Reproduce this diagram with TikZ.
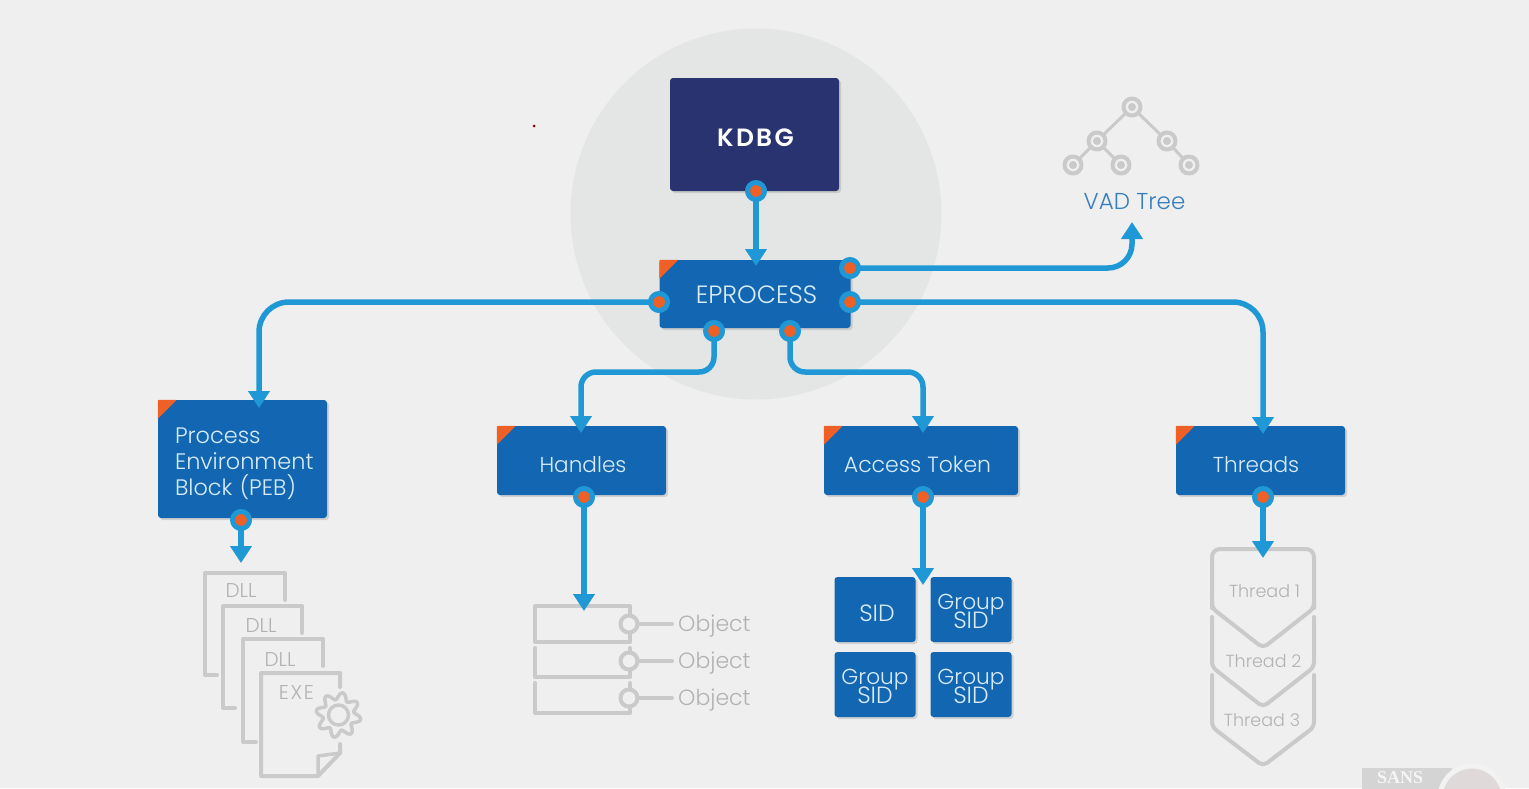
\documentclass[tikz,border=0pt]{standalone}
\usepackage{fontspec}
\setmainfont{Poppins Light}[BoldFont=Poppins SemiBold]
\newfontfamily\logofont{Liberation Serif}
\usetikzlibrary{arrows.meta,shadows}
\definecolor{bgcol}{HTML}{EFEFEF}
\definecolor{halocol}{HTML}{E4E6E6}
\definecolor{navycol}{HTML}{28336F}
\definecolor{boxcol}{HTML}{1367B2}
\definecolor{flowcol}{HTML}{2098D6}
\definecolor{dotcol}{HTML}{EE6025}
\definecolor{txtcol}{HTML}{D9ECF7}
\definecolor{iconcol}{HTML}{CACACA}
\definecolor{graytxt}{HTML}{B2B2B2}
\newcommand{\sidword}{{\fontsize{23.5}{19}\selectfont SID}}
\newcommand{\tightlines}{\lineskiplimit=-20pt\relax}
\tikzset{
  blockbox/.style={fill=boxcol, rounded corners=3pt, text=txtcol, inner sep=0pt, align=center, text height=24pt,
    font=\fontsize{22}{26}\selectfont,
    drop shadow={shadow xshift=2pt, shadow yshift=-2pt, fill=black, opacity=.12}},
  port/.style={circle, fill=dotcol, draw=flowcol, line width=5pt, minimum size=17pt, inner sep=0pt, outer sep=0pt},
  flow/.style={draw=flowcol, line width=5.5pt, ->},
  icon/.style={draw=iconcol, line width=4pt},
  vadnode/.style={circle, draw=iconcol, fill=bgcol, line width=4pt, minimum size=17pt, inner sep=0pt, outer sep=0pt},
  objring/.style={circle, draw=iconcol, fill=bgcol, line width=4pt, minimum size=17pt, inner sep=0pt, outer sep=0pt},
  objtxt/.style={anchor=west, text=graytxt, inner sep=6pt, text height=20pt, font=\fontsize{22}{24}\selectfont},
  filetxt/.style={text=graytxt, inner sep=0pt, font=\fontsize{20}{22}\selectfont},
  threadtxt/.style={text=graytxt, inner sep=0pt, font=\fontsize{17.5}{20}\selectfont},
  sidbox/.style={blockbox, minimum width=81pt, minimum height=65pt, font=\fontsize{21.7}{19}\selectfont\tightlines},
  groupbox/.style={sidbox, text height=39pt}
}
\begin{document}
\begin{tikzpicture}[x=1pt, y=-1pt, line join=round, line cap=round,
    >={Triangle[width=21pt,length=17pt]}, font=\fontsize{22}{26}\selectfont]
	\useasboundingbox (0,0) rectangle (1529,788);
	\fill[bgcol] (0,0) rectangle (1529,788);
	\begin{scope}
		\clip (0,0) rectangle (1529,788);
		% logo in the corner
		\fill[black!17] (1362,768) rectangle (1452,800);
		\node[text=white!96!black, inner sep=0pt, font=\logofont\bfseries\fontsize{18}{18}\selectfont] (sans) at (1400,778) {SANS};
		\filldraw[draw=white!95!black, line width=5pt, fill=red!20!black!15!white] (1472,798) circle (32);
	\end{scope}
	\fill[red!50!black] (534,126) circle (1.5);
	\fill[halocol] (756,214) circle (185.5);
	% boxes
	\node[blockbox, fill=navycol, text=white, minimum width=169pt, minimum height=113pt, text height=24pt,
		font=\bfseries\fontsize{25}{26}\selectfont\addfontfeature{LetterSpace=9}] (kdbg) at (754.5,134.5) {\hspace*{2pt}KDBG};
	\node[blockbox, minimum width=191pt, minimum height=68pt, text height=20pt,
		font=\fontsize{25}{26}\selectfont] (eprocess) at (755,294) {\hspace*{3pt}EPROCESS};
	\node[blockbox, minimum width=169pt, minimum height=118pt, align=left, text width=135pt, text height=26pt,
		font=\fontsize{22.4}{26}\selectfont] (peb) at (242.5,459)
		{Process\\Environment\\Block (PEB)};
	\node[blockbox, font=\fontsize{21.6}{26}\selectfont, minimum width=169pt, minimum height=69pt] (handles) at (581.5,460.5) {\hspace*{3pt}Handles};
	\node[blockbox, minimum width=194pt, minimum height=69pt] (token) at (921,460.5) {Access Token\hspace*{7pt}};
	\node[blockbox, font=\fontsize{21.6}{26}\selectfont, minimum width=169pt, minimum height=69pt] (threads) at (1260.5,460.5) {Threads\hspace*{9pt}};
	\foreach \n in {eprocess,peb,handles,token,threads}
		\fill[dotcol, rounded corners=1pt] (\n.north west) ++(0,19) -- ++(0,-19) -- ++(19,0) -- cycle;
	\node[sidbox] (sidA) at (875,609.5) {\hspace*{4pt}\sidword};
	\node[groupbox] (sidB) at (971,609.5) {Group\\\sidword};
	\node[groupbox] (sidC) at (875,684.5) {Group\\\sidword};
	\node[groupbox] (sidD) at (971,684.5) {Group\\\sidword};
	% ports
	\node[port] (pK) at (756,191) {};
	\node[port] (pVad) at (850,268) {};
	\node[port] (pThr) at (850,302) {};
	\node[port] (pPeb) at (659,302) {};
	\node[port] (pHan) at (714,331) {};
	\node[port] (pTok) at (790,331) {};
	\node[port] (pDll) at (241,520) {};
	\node[port] (pObj) at (584,497) {};
	\node[port] (pSid) at (923,497) {};
	\node[port] (pList) at (1263,497) {};
	% free ends of the arrows
	\path (756,266) coordinate (inE)
		(1132,222) coordinate (inVad)
		(1263,434) coordinate (inThr)
		(259,408) coordinate (inPeb)
		(581,433) coordinate (inHan)
		(923,433) coordinate (inTok)
		(241,563) coordinate (inDll)
		(584,611) coordinate (inObj)
		(923,585) coordinate (inSid)
		(1263,558) coordinate (inList);
	% VAD tree
	\node[vadnode] (vA) at (1132,107) {};
	\node[vadnode] (vB) at (1097,141) {};
	\node[vadnode] (vC) at (1167,141) {};
	\node[vadnode] (vD) at (1073,165) {};
	\node[vadnode] (vE) at (1121,165) {};
	\node[vadnode] (vF) at (1189,165) {};
	\foreach \a/\b in {vA/vB,vA/vC,vB/vD,vB/vE,vC/vF}
		\draw[iconcol, line width=3pt] (\a) -- (\b);
	\foreach \n in {vA,vB,vC,vD,vE,vF}
		\fill[iconcol] (\n) circle (4);
	\node[text=boxcol!85!white, inner sep=0pt, font=\fontsize{23}{24}\selectfont] (vad) at (1134.5,202) {VAD Tree};
	% DLL and EXE pages
	\draw[icon] (217,675) -- (205,675) -- (205,573) -- (285,573) -- (285,600);
	\draw[icon] (235,708) -- (223,708) -- (223,606) -- (302,606) -- (302,633);
	\draw[icon] (256,742) -- (243,742) -- (243,639) -- (323,639) -- (323,666);
	\draw[icon] (340,687) -- (340,673) -- (261,673) -- (261,776) -- (318,776) -- (340,753) -- (340,744);
	\draw[icon, line width=3.5pt] (318,776) -- (318,756) -- (340,753);
	\draw[icon, line width=3.5pt, shift={(338.5,715)}] plot[domain=0:360, samples=145] (\x:{19+3.5*sin(8*\x)}) -- cycle;
	\draw[icon, line width=3.5pt] (338.5,715) circle (10);
	\node[filetxt] (dllA) at (241,590) {DLL};
	\node[filetxt] (dllB) at (261,625) {DLL};
	\node[filetxt] (dllC) at (280,659) {DLL};
	\node[filetxt, font=\fontsize{20}{22}\selectfont\addfontfeature{LetterSpace=8}] (exe) at (296.5,692) {EXE};
	% object list
	\draw[icon] (535,606) rectangle (630,642);
	\draw[icon] (535,648) -- (535,677) -- (630,677) -- (630,648);
	\draw[icon] (535,683) -- (535,713) -- (630,713) -- (630,683);
	\foreach \n/\y in {1/624,2/661,3/698}{
		\node[objring] (ring\n) at (629,\y) {};
		\node[objtxt] (obj\n) at (672,\y) {Object};
		\draw[icon] (ring\n) -- (obj\n);
	}
	% thread list
	\draw[icon, rounded corners=8pt] (1212,608) -- (1212,549) -- (1314,549) -- (1314,608);
	\draw[icon, rounded corners=5pt] (1212,600) -- (1212,608) -- (1263,648) -- (1314,608) -- (1314,600);
	\draw[icon, rounded corners=5pt] (1212,617) -- (1212,667) -- (1263,707) -- (1314,667) -- (1314,617);
	\draw[icon, rounded corners=5pt] (1212,675) -- (1212,727) -- (1263,766) -- (1314,727) -- (1314,675);
	\node[threadtxt] (thrA) at (1264.5,591) {Thread 1};
	\node[threadtxt] (thrB) at (1263.5,661) {Thread 2};
	\node[threadtxt] (thrC) at (1262,720) {Thread 3};
	% arrows
	\draw[flow] (pK) -- (inE);
	\draw[flow, rounded corners=24pt] (pVad) -| (inVad);
	\draw[flow, rounded corners=30pt] (pThr) -| (inThr);
	\draw[flow, rounded corners=30pt] (pPeb) -| (inPeb);
	\draw[flow, rounded corners=15pt] (pHan) |- (581,372) -- (inHan);
	\draw[flow, rounded corners=15pt] (pTok) |- (923,372) -- (inTok);
	\draw[flow] (pDll) -- (inDll);
	\draw[flow] (pObj) -- (inObj);
	\draw[flow] (pSid) -- (inSid);
	\draw[flow] (pList) -- (inList);
\end{tikzpicture}
\end{document}
